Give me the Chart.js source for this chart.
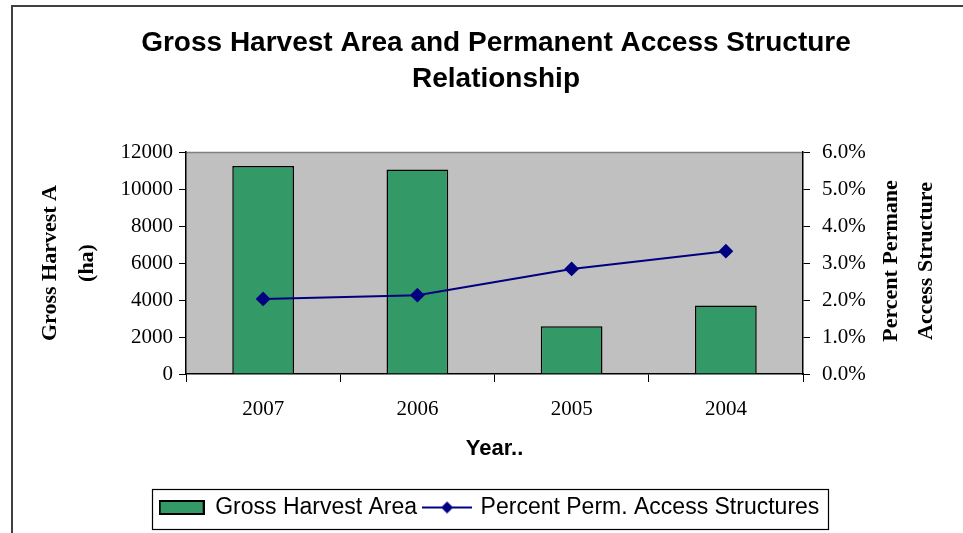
<!DOCTYPE html>
<html>
<head>
<meta charset="utf-8">
<script src="https://cdn.jsdelivr.net/npm/chart.js@4/dist/chart.umd.min.js"></script>
<style>
html,body{margin:0;padding:0;overflow:hidden;background:#fff;}
#wrap{width:980px;height:533px;}
</style>
</head>
<body>
<div id="wrap"><canvas id="c" width="980" height="533"></canvas></div>
<script>
// ---- data ----
const years = ['2007', '2006', '2005', '2004'];
const grossHarvestArea = [11250, 11050, 2580, 3700];
const percentPermAccess = [0.0203, 0.0213, 0.0284, 0.0332];
const leftTicks = [0, 2000, 4000, 6000, 8000, 10000, 12000];
const rightTicks = [0, 0.01, 0.02, 0.03, 0.04, 0.05, 0.06];

const GREEN = '#339966';
const NAVY = '#000080';

// legend sample images
function makeSwatch() {
  const c = document.createElement('canvas');
  c.width = 46; c.height = 15;
  const x = c.getContext('2d');
  x.fillStyle = GREEN; x.fillRect(1, 1, 44, 13);
  x.strokeStyle = '#000'; x.lineWidth = 2; x.strokeRect(1, 1, 44, 13);
  return c;
}
function makeLineSample() {
  const c = document.createElement('canvas');
  c.width = 50; c.height = 14;
  const x = c.getContext('2d');
  x.strokeStyle = NAVY; x.lineWidth = 2;
  x.beginPath(); x.moveTo(0, 7); x.lineTo(50, 7); x.stroke();
  x.fillStyle = NAVY;
  x.beginPath(); x.moveTo(25, 1); x.lineTo(31, 7); x.lineTo(25, 13); x.lineTo(19, 7); x.closePath(); x.fill();
  return c;
}
const swatchImg = makeSwatch();
const lineImg = makeLineSample();

const decor = {
  id: 'decor',
  afterLayout(chart) {
    // the reference legend sits slightly left of the title centre
    chart.legend.left -= 6.5;
    chart.legend.right -= 6.5;
  },
  beforeDraw(chart) {
    const ctx = chart.ctx, a = chart.chartArea;
    ctx.save();
    ctx.fillStyle = '#fff';
    ctx.fillRect(0, 0, chart.width, chart.height);
    // outer border
    ctx.strokeStyle = '#404040'; ctx.lineWidth = 2;
    ctx.strokeRect(12, 6, 2000, 2000);
    // plot area
    ctx.fillStyle = '#C0C0C0';
    ctx.fillRect(a.left, a.top, a.right - a.left, a.bottom - a.top);
    ctx.strokeStyle = '#808080'; ctx.lineWidth = 1.5;
    ctx.beginPath(); ctx.moveTo(a.left, a.top + 0.5); ctx.lineTo(a.right, a.top + 0.5); ctx.stroke();
    ctx.restore();
  },
  afterDraw(chart) {
    const ctx = chart.ctx;
    ctx.save();
    // right axis title (reads bottom to top)
    ctx.fillStyle = '#000';
    ctx.font = 'bold 22px "Liberation Serif", "Times New Roman", serif';
    ctx.textAlign = 'center'; ctx.textBaseline = 'middle';
    const a = chart.chartArea;
    const cy = (a.top + a.bottom) / 2 - 2;
    [['Percent Permane', 891], ['Access Structure', 926]].forEach(([t, x]) => {
      ctx.save(); ctx.translate(x, cy); ctx.rotate(-Math.PI / 2); ctx.fillText(t, 0, 0); ctx.restore();
    });
    // legend frame
    const hb = chart.legend.legendHitBoxes;
    if (hb && hb.length) {
      const l = hb[0].left - 8;
      const r = hb[hb.length - 1].left + hb[hb.length - 1].width + 8;
      const cyL = hb[0].top + hb[0].height / 2;
      ctx.strokeStyle = '#000'; ctx.lineWidth = 1.2;
      ctx.strokeRect(Math.round(l) + 0.5, Math.round(cyL - 19) + 0.5, Math.round(r - l), 40);
    }
    ctx.restore();
  }
};

new Chart(document.getElementById('c'), {
  type: 'bar',
  data: {
    labels: years,
    datasets: [
      {
        type: 'bar',
        label: 'Gross Harvest Area',
        data: grossHarvestArea,
        backgroundColor: GREEN,
        borderColor: '#000',
        borderWidth: 1.5,
        categoryPercentage: 1,
        barPercentage: 0.4,
        yAxisID: 'y',
        order: 2
      },
      {
        type: 'line',
        label: 'Percent Perm. Access Structures',
        data: percentPermAccess,
        borderColor: NAVY,
        backgroundColor: NAVY,
        borderWidth: 2,
        pointStyle: 'rectRot',
        pointRadius: 6,
        pointBackgroundColor: NAVY,
        pointBorderColor: NAVY,
        tension: 0,
        yAxisID: 'y1',
        order: 1
      }
    ]
  },
  options: {
    responsive: false,
    animation: false,
    devicePixelRatio: 1,
    layout: { padding: { left: 12, top: 6, right: 0, bottom: 4 } },
    plugins: {
      tooltip: { enabled: false },
      title: {
        display: true,
        text: ['Gross Harvest Area and Permanent Access Structure', 'Relationship'],
        color: '#000',
        font: { family: '"Liberation Sans", Arial, sans-serif', size: 28, weight: 'bold', lineHeight: 36 / 28 },
        padding: { top: 19, bottom: 55 }
      },
      legend: {
        position: 'bottom',
        labels: {
          usePointStyle: true,
          pointStyleWidth: 44,
          padding: 8,
          color: '#000',
          font: { family: '"Liberation Sans", Arial, sans-serif', size: 23 },
          generateLabels: () => [
            { text: 'Gross Harvest Area', pointStyle: swatchImg, fillStyle: GREEN, strokeStyle: '#000', lineWidth: 0, hidden: false, datasetIndex: 0, fontColor: '#000' },
            { text: 'Percent Perm. Access Structures', pointStyle: lineImg, fillStyle: NAVY, strokeStyle: NAVY, lineWidth: 0, hidden: false, datasetIndex: 1, fontColor: '#000' }
          ]
        }
      }
    },
    scales: {
      x: {
        offset: true,
        grid: { display: true, offset: true, drawOnChartArea: false, drawTicks: true, tickLength: 8, color: '#000', lineWidth: 1 },
        border: { display: true, color: '#000', width: 1.5 },
        ticks: { color: '#000', padding: 15, maxRotation: 0, font: { family: '"Liberation Serif", "Times New Roman", serif', size: 21 } },
        title: {
          display: true, text: 'Year..', color: '#000',
          font: { family: '"Liberation Sans", Arial, sans-serif', size: 22, weight: 'bold' },
          padding: { top: 0, bottom: 26 }
        },
        afterFit(s) { s.height = 114; }
      },
      y: {
        position: 'left',
        min: 0, max: 12000,
        afterBuildTicks(s) { s.ticks = leftTicks.map(v => ({ value: v })); },
        grid: { drawOnChartArea: false, drawTicks: true, tickLength: 7, color: '#000' },
        border: { display: true, color: '#000', width: 1.5 },
        ticks: { color: '#000', padding: 6, font: { family: '"Liberation Serif", "Times New Roman", serif', size: 21 }, callback: v => String(v) },
        title: {
          display: true, text: ['Gross Harvest A', '(ha)'], color: '#000',
          font: { family: '"Liberation Serif", "Times New Roman", serif', size: 22, weight: 'bold', lineHeight: 37 / 22 },
          padding: { top: 20, bottom: 0 }
        },
        afterFit(s) { s.width = 174; }
      },
      y1: {
        position: 'right',
        min: 0, max: 0.06,
        afterBuildTicks(s) { s.ticks = rightTicks.map(v => ({ value: v })); },
        grid: { drawOnChartArea: false, drawTicks: true, tickLength: 7, color: '#000' },
        border: { display: true, color: '#000', width: 1.5 },
        ticks: {
          color: '#000', padding: 12,
          font: { family: '"Liberation Serif", "Times New Roman", serif', size: 21 },
          callback: v => (v * 100).toFixed(1) + '%'
        },
        afterFit(s) { s.width = 177; }
      }
    }
  },
  plugins: [decor]
});
</script>
</body>
</html>
